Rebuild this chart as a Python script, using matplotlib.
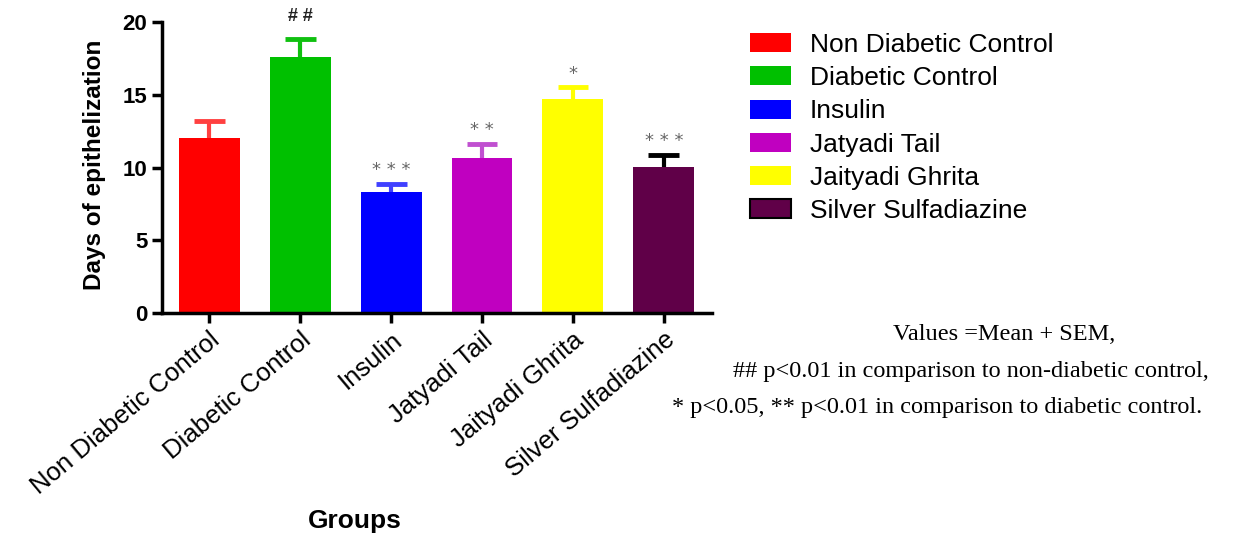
import matplotlib.pyplot as plt
import numpy as np

# data
groups = ["Non Diabetic Control", "Diabetic Control", "Insulin",
          "Jatyadi Tail", "Jaityadi Ghrita", "Silver Sulfadiazine"]
means = np.array([12.0, 17.6, 8.3, 10.65, 14.7, 10.05])
sems = np.array([1.2, 1.2, 0.6, 0.95, 0.8, 0.8])
marks = ["", "# #", "* * *", "* *", "*", "* * *"]
colors = ["#ff0000", "#00c000", "#0000ff", "#c000c0", "#ffff00", "#600048"]
err_colors = ["#ff4040", "#10c010", "#4040ff", "#c050d0", "#ffff00", "#000000"]

plt.rcParams['font.family'] = ['Liberation Sans', 'DejaVu Sans']

fig = plt.figure(figsize=(12.33, 5.37), dpi=100)
ax = fig.add_axes([0.1314, 0.4171, 0.4461, 0.5419])

x = np.arange(len(groups))
bars = ax.bar(x, means, width=0.67, color=colors, zorder=2)
# upper-only error bars with a cap
for i in range(len(groups)):
    ax.vlines(x[i], means[i], means[i] + sems[i], color=err_colors[i], lw=3, zorder=1)
    ax.hlines(means[i] + sems[i], x[i] - 0.17, x[i] + 0.17, color=err_colors[i], lw=3.5, zorder=1)
    if marks[i].startswith('#'):
        ax.text(x[i], means[i] + sems[i] + 1.6, marks[i], ha='center', va='center',
                fontsize=13, fontweight='bold', color='#222222')
    elif marks[i]:
        ax.text(x[i], means[i] + sems[i] + 0.95, marks[i], ha='center', va='center',
                fontsize=13, color='#666666', family='DejaVu Sans')

ax.set_xlim(-0.52, 5.53)
ax.set_ylim(0, 20)
ax.set_yticks([0, 5, 10, 15, 20])
ax.set_xticks(x)
ax.set_xticklabels(groups, rotation=40, ha='right', rotation_mode='anchor', fontsize=18.5)
for lab in ax.get_yticklabels():
    lab.set_fontsize(16)
    lab.set_fontweight('bold')
ax.spines['top'].set_visible(False)
ax.spines['right'].set_visible(False)
ax.spines['left'].set_linewidth(2.5)
ax.spines['bottom'].set_linewidth(2.5)
ax.tick_params(width=2.5, length=7)
ax.set_ylabel("Days of epithelization", fontsize=17.5, fontweight='bold')
ax.yaxis.set_label_coords(-0.102, 0.509)
ax.set_xlabel("Groups", fontsize=19, fontweight='bold')
ax.xaxis.set_label_coords(0.351, -0.675)

edge = ["none"] * 5 + ["black"]
handles = [plt.Rectangle((0, 0), 1, 1, facecolor=c, edgecolor=e, linewidth=1.5)
           for c, e in zip(colors, edge)]
fig.legend(handles, groups, loc='upper left', bbox_to_anchor=(0.589, 0.983),
           frameon=False, fontsize=19, handlelength=1.55, handleheight=0.72,
           handletextpad=0.72, labelspacing=0.35)

fig.text(893 / 1233, 1 - 335 / 537, "Values =Mean + SEM,", family='Liberation Serif',
         fontsize=17.5, va='center')
fig.text(733 / 1233, 1 - 372 / 537, "## p<0.01 in comparison to non-diabetic control,",
         family='Liberation Serif', fontsize=17.5, va='center')
fig.text(672 / 1233, 1 - 408 / 537, "* p<0.05, ** p<0.01 in comparison to diabetic control.",
         family='Liberation Serif', fontsize=17.5, va='center')

fig.savefig("out.png", dpi=100)
